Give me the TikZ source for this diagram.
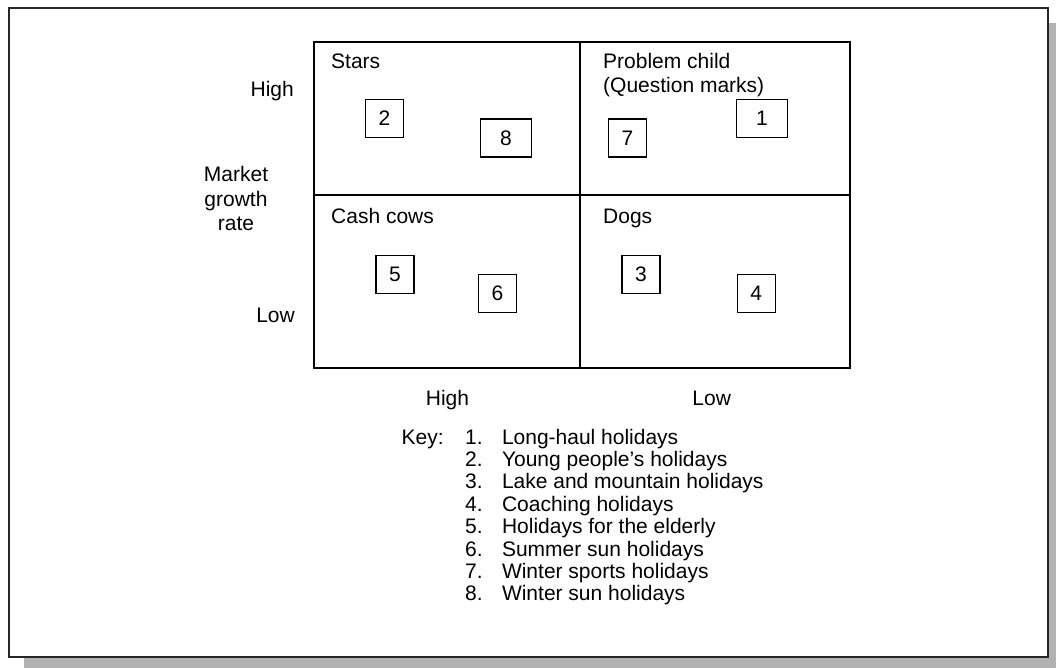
\documentclass[tikz,border=0pt]{standalone}
\usepackage{fontspec}
\setmainfont{Liberation Sans}
\usepackage{tikz}
\tikzstyle{num}=[shape=rectangle,
	       draw=black,
	       line width=1.3pt,
	       minimum width=38pt,
	       minimum height=38pt,
	       inner sep=0pt]
\tikzstyle{wide}=[num, minimum width=51pt]
\tikzstyle{lbl}=[inner sep=0pt, anchor=base west]

\begin{document}
\begin{tikzpicture}[x=1pt, y=-1pt, font=\fontsize{21}{24}\selectfont]
\useasboundingbox (0,0) rectangle (1056,668);

% page frame with its grey shadow
\fill[black!30] (24,23) rectangle (1056,668);
\draw[line width=2pt, draw=black!85, fill=white] (9,8) rectangle (1048,657);

% the four quadrants
\coordinate (tl) at (314,42);
\coordinate (br) at (850,368);
\coordinate (tm) at (580,42);
\coordinate (bm) at (580,368);
\coordinate (ml) at (314,195);
\coordinate (mr) at (850,195);
\draw[line width=1.3pt] (tl) rectangle (br);
\draw[line width=1.3pt] (tm) -- (bm);
\draw[line width=1.3pt] (ml) -- (mr);

% quadrant names (multi-line nodes sit on their last line)
\node[lbl] (stars) at (331,69) {Stars};
\node[lbl, align=left] (problem) at (603,93) {Problem child\\(Question marks)};
\node[lbl] (cows) at (331,223) {Cash cows};
\node[lbl] (dogs) at (603,223) {Dogs};

% axis labels
\node[inner sep=0pt, anchor=base east] (yhigh) at (294,97) {High};
\node[inner sep=0pt, anchor=base east] (ylow) at (295,322.5) {Low};
\node[inner sep=0pt, anchor=base, align=center] (yname) at (236,230) {Market\\growth\\rate};
\node[inner sep=0pt, anchor=base] (xhigh) at (447.5,405) {High};
\node[inner sep=0pt, anchor=base] (xlow) at (711.7,405) {Low};

% holiday products
\node[num] (b2) at (384.5,118.5) {2};
\node[wide] (b8) at (506,138) {8};
\node[num] (b7) at (627.5,138) {7};
\node[wide] (b1) at (762,118.5) {1};
\node[num] (b5) at (395,274.5) {5};
\node[num] (b6) at (497.5,293.5) {6};
\node[num] (b3) at (641,274.5) {3};
\node[num] (b4) at (756.3,293.5) {4};

% key
\node[lbl] (key) at (401.5,444) {Key:};
\foreach \idx/\desc [count=\i from 0] in {1/Long-haul holidays,
    2/Young people’s holidays,
    3/Lake and mountain holidays,
    4/Coaching holidays,
    5/Holidays for the elderly,
    6/Summer sun holidays,
    7/Winter sports holidays,
    8/Winter sun holidays}
{
  \node[lbl] (knum\idx) at (465,444+22.4*\i) {\idx.};
  \node[lbl] (ktxt\idx) at (501.8,444+22.4*\i) {\desc};
}

\end{tikzpicture}
\end{document}
